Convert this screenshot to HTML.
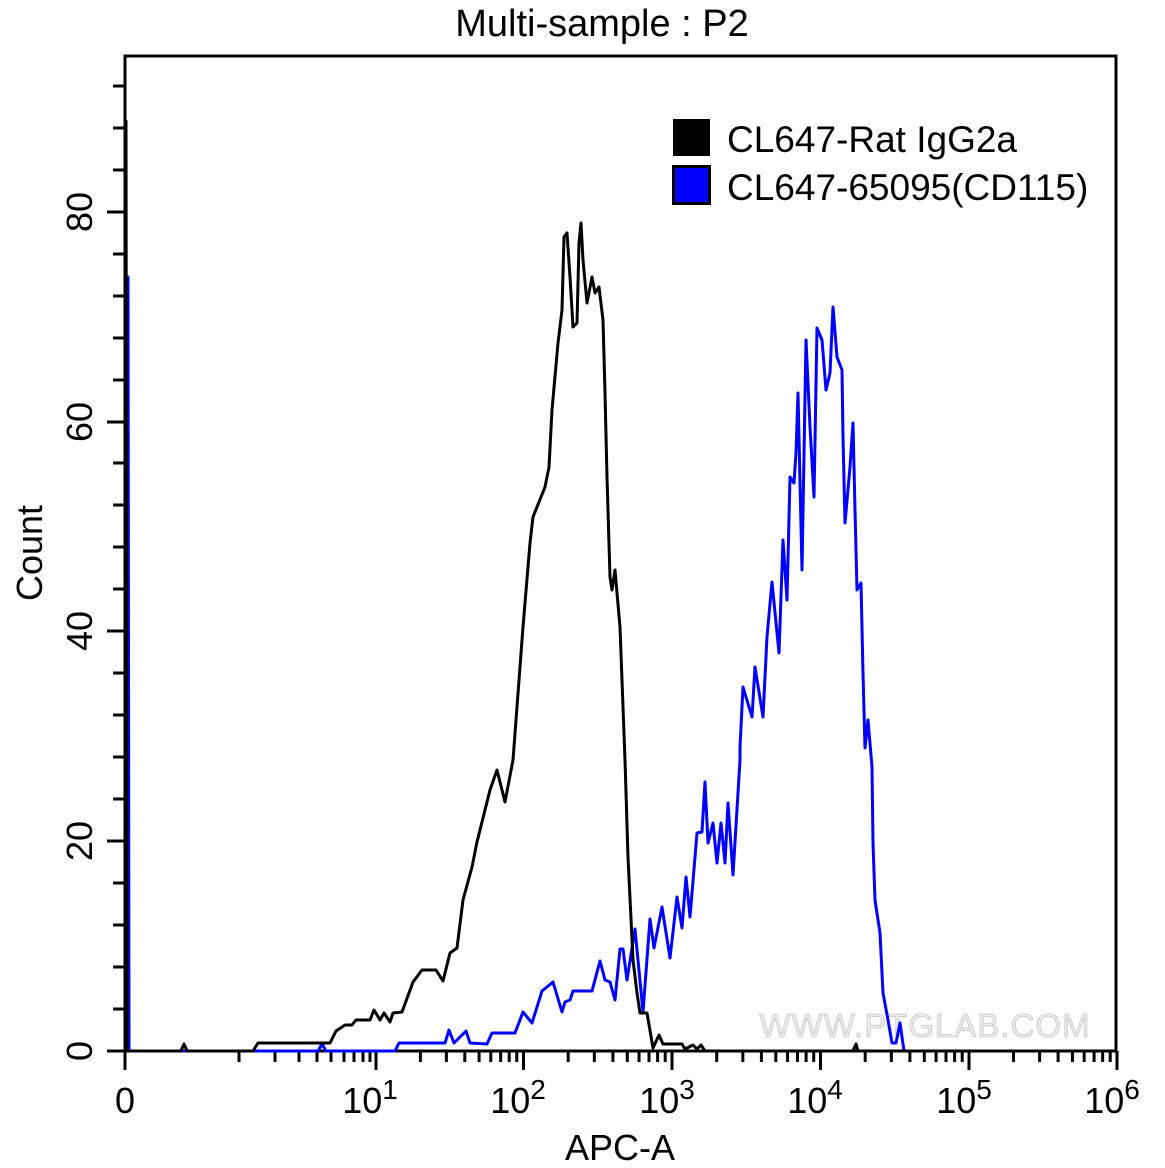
<!DOCTYPE html>
<html><head><meta charset="utf-8"><style>
html,body{margin:0;padding:0;background:#fff;}
svg{display:block;font-family:"Liberation Sans",Arial,sans-serif;}
</style></head><body>
<svg width="1165" height="1168" viewBox="0 0 1165 1168" xmlns="http://www.w3.org/2000/svg">
<rect width="1165" height="1168" fill="#fff"/>
<text x="602" y="36" font-size="38" text-anchor="middle">Multi-sample : P2</text>
<text x="925" y="1037" font-size="33" fill="#ececec" stroke="#c8c8c8" stroke-width="0.8" text-anchor="middle" letter-spacing="1">WWW.PTGLAB.COM</text>
<rect x="125" y="56" width="991" height="995" fill="none" stroke="#000" stroke-width="3"/>
<g stroke="#000" stroke-width="3">
<line x1="107" y1="1051" x2="125" y2="1051"/><line x1="113" y1="1009" x2="125" y2="1009"/><line x1="113" y1="967" x2="125" y2="967"/><line x1="113" y1="925" x2="125" y2="925"/><line x1="113" y1="883" x2="125" y2="883"/>
<line x1="107" y1="841" x2="125" y2="841"/><line x1="113" y1="799" x2="125" y2="799"/><line x1="113" y1="757" x2="125" y2="757"/><line x1="113" y1="715" x2="125" y2="715"/><line x1="113" y1="673" x2="125" y2="673"/>
<line x1="107" y1="631" x2="125" y2="631"/><line x1="113" y1="589" x2="125" y2="589"/><line x1="113" y1="547" x2="125" y2="547"/><line x1="113" y1="505" x2="125" y2="505"/><line x1="113" y1="463" x2="125" y2="463"/>
<line x1="107" y1="422" x2="125" y2="422"/><line x1="113" y1="380" x2="125" y2="380"/><line x1="113" y1="338" x2="125" y2="338"/><line x1="113" y1="296" x2="125" y2="296"/><line x1="113" y1="254" x2="125" y2="254"/>
<line x1="107" y1="212" x2="125" y2="212"/><line x1="113" y1="170" x2="125" y2="170"/><line x1="113" y1="128" x2="125" y2="128"/><line x1="113" y1="86" x2="125" y2="86"/>
</g>
<g font-size="36" text-anchor="middle">
<text transform="translate(92,1051) rotate(-90)">0</text>
<text transform="translate(92,841) rotate(-90)">20</text>
<text transform="translate(92,631) rotate(-90)">40</text>
<text transform="translate(92,422) rotate(-90)">60</text>
<text transform="translate(92,212) rotate(-90)">80</text>
<text transform="translate(42,553) rotate(-90)">Count</text>
</g>
<g stroke="#000" stroke-width="3">
<line x1="125" y1="1051" x2="125" y2="1070"/>
<line x1="239" y1="1051" x2="239" y2="1062"/><line x1="275" y1="1051" x2="275" y2="1062"/><line x1="299" y1="1051" x2="299" y2="1062"/><line x1="317" y1="1051" x2="317" y2="1062"/><line x1="331" y1="1051" x2="331" y2="1062"/><line x1="344" y1="1051" x2="344" y2="1062"/><line x1="354" y1="1051" x2="354" y2="1062"/><line x1="363" y1="1051" x2="363" y2="1062"/><line x1="370" y1="1051" x2="370" y2="1062"/>
</g>
<g stroke="#000" stroke-width="3" id="dec"></g>
<g font-size="36" text-anchor="middle">
<text x="125" y="1113">0</text>
<text x="370" y="1113">10<tspan font-size="28" dy="-14">1</tspan></text>
<text x="518" y="1113">10<tspan font-size="28" dy="-14">2</tspan></text>
<text x="667" y="1113">10<tspan font-size="28" dy="-14">3</tspan></text>
<text x="815" y="1113">10<tspan font-size="28" dy="-14">4</tspan></text>
<text x="964" y="1113">10<tspan font-size="28" dy="-14">5</tspan></text>
<text x="1112" y="1113">10<tspan font-size="28" dy="-14">6</tspan></text>
<text x="620" y="1160">APC-A</text>
</g>
<polyline fill="none" stroke="#0000ff" stroke-width="3" stroke-linejoin="round" points="128,1051 128,277 129,1051 318,1051 322,1044 326,1051 395,1051 399,1043 445,1043 449,1030 454,1043 466,1031 470,1043 487,1044 492,1033 515,1033 523,1012 532,1023 542,991 553,982 562,1012 565,1002 570,1000 573,991 592,991 600,961 605,980 610,982 615,1000 620,949 623,949 627,980 635,929 643,1012 650,919 654,948 662,907 670,958 677,897 682,928 686,877 690,917 697,833 702,832 705,782 708,843 713,823 717,863 721,823 725,863 728,803 733,875 740,760 740,747 743,687 752,717 755,667 763,717 767,637 772,582 779,653 783,540 787,600 790,477 794,483 796,453 798,393 802,570 806,340 810,427 814,497 817,328 822,340 826,390 830,373 833,307 837,357 842,370 843,437 845,523 850,467 853,423 855,510 857,590 861,583 863,673 865,748 868,720 872,767 873,843 875,900 880,933 883,993 888,1020 892,1043 896,1043 900,1023 904,1051"/>
<polyline fill="none" stroke="#000" stroke-width="3" stroke-linejoin="round" points="126,1051 126,121 127,1051 181,1051 184,1044 187,1051 253,1051 258,1043 330,1043 336,1031 345,1025 352,1025 356,1020 370,1020 374,1010 380,1020 384,1013 390,1022 393,1013 402,1012 413,982 422,970 436,970 443,981 450,953 457,948 463,900 472,867 477,842 480,830 490,790 497,770 505,802 513,760 523,627 530,543 533,517 545,487 549,467 552,410 558,343 562,310 564,237 567,233 570,277 573,327 577,323 579,243 581,223 583,260 587,303 592,277 595,293 599,287 603,320 605,393 607,477 610,577 612,590 615,570 620,627 625,760 628,857 633,960 637,993 640,1013 647,1013 653,1048 659,1035 663,1044 682,1044 685,1049 693,1045 697,1049 701,1045 705,1051 853,1051 856,1044 858,1051 1116,1051"/>
<rect x="673" y="119" width="37" height="37" fill="#000"/>
<rect x="673.5" y="166.5" width="36" height="37" fill="#0000ff" stroke="#000" stroke-width="3"/>
<text x="727" y="152" font-size="37">CL647-Rat IgG2a</text>
<text x="727" y="200" font-size="37">CL647-65095(CD115)</text>
<script>
(function(){var g=document.getElementById('dec');var ns='http://www.w3.org/2000/svg';
var base=[376,523.5,672,820.5,969];
function L(x,len){var l=document.createElementNS(ns,'line');l.setAttribute('x1',x);l.setAttribute('x2',x);l.setAttribute('y1',1051);l.setAttribute('y2',1051+len);g.appendChild(l);}
for(var d=0;d<5;d++){L(base[d],19);var w=(d<4?base[d+1]:1117)-base[d];for(var k=2;k<=9;k++)L(base[d]+w*Math.log10(k),11);}
L(1117,19);})();
</script>
</svg>
</body></html>
